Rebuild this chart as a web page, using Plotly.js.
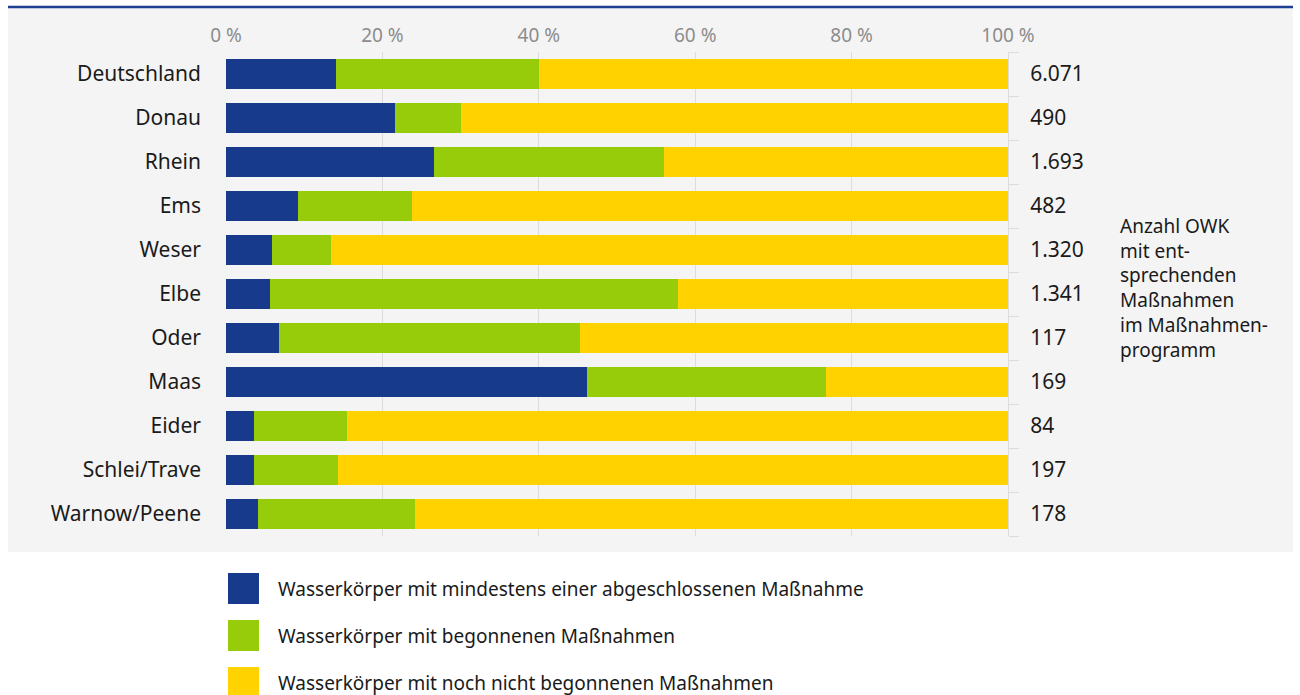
<!DOCTYPE html>
<html>
<head>
<meta charset="utf-8">
<script src="https://cdn.plot.ly/plotly-3.0.1.min.js"></script>
<style>html,body{margin:0;padding:0;background:#fff;}#chart{width:1300px;height:695px;}</style>
</head>
<body>
<div id="chart"></div>
<script>
const categories = ["Deutschland","Donau","Rhein","Ems","Weser","Elbe","Oder","Maas","Eider","Schlei/Trave","Warnow/Peene"];
const abgeschlossen = [14.1, 21.6, 26.6, 9.2, 5.9, 5.6, 6.8, 46.2, 3.6, 3.6, 4.1];
const begonnen      = [25.9, 8.4, 29.4, 14.6, 7.5, 52.2, 38.5, 30.5, 11.9, 10.7, 20.1];
const nichtBegonnen = [60.0, 70.0, 44.0, 76.2, 86.6, 42.2, 54.7, 23.3, 84.5, 85.7, 75.8];
const anzahlOWK = ["6.071","490","1.693","482","1.320","1.341","117","169","84","197","178"];
const seriesNames = [
  "Wasserkörper mit mindestens einer abgeschlossenen Maßnahme",
  "Wasserkörper mit begonnenen Maßnahmen",
  "Wasserkörper mit noch nicht begonnenen Maßnahmen"
];
const seriesColors = ["#183a8c", "#96cc0a", "#ffd200"];
const xTicks = [0, 20, 40, 60, 80, 100];
const rightTitle = ["Anzahl OWK","mit ent-","sprechenden","Maßnahmen","im Maßnahmen-","programm"];

const FONT = "Noto Sans, sans-serif";
const L = 226, R = 1008, T = 52, B = 536;
const px = v => (v - L) / (R - L);
const py = v => (B - v) / (B - T);
const catRange = [categories.length - 0.5, -0.5];

const seriesValues = [abgeschlossen, begonnen, nichtBegonnen];
const traces = seriesValues.map((vals, i) => ({
  type: "bar",
  orientation: "h",
  x: vals,
  y: categories,
  name: seriesNames[i],
  marker: {color: seriesColors[i], line: {width: 0}},
  hoverinfo: "x+y"
}));
// helper trace registering categories on the right axis
traces.push({
  type: "scatter", mode: "markers", x: abgeschlossen, y: categories,
  yaxis: "y2", marker: {opacity: 0}, hoverinfo: "skip", showlegend: false
});

const shapes = [
  {type: "rect", xref: "paper", yref: "paper", x0: px(8), x1: px(1293), y0: py(552), y1: py(8),
   fillcolor: "#f4f4f4", line: {width: 0}, layer: "below"},
  {type: "line", xref: "paper", yref: "paper", x0: px(8), x1: px(1293), y0: py(7), y1: py(7),
   line: {color: "#1d3f92", width: 2.5}}
];
const annotations = [];
seriesNames.forEach((n, i) => {
  const top = 573 + i * 47;
  shapes.push({type: "rect", xref: "paper", yref: "paper", x0: px(228), x1: px(259),
    y0: py(top + 31), y1: py(top), fillcolor: seriesColors[i], line: {width: 0}});
  annotations.push({xref: "paper", yref: "paper", x: px(276), y: py(top + 15.5),
    xanchor: "left", yanchor: "middle", showarrow: false, text: n,
    font: {family: FONT, size: 19, color: "#1a1a1a"}});
});
annotations.push({xref: "paper", yref: "paper", x: px(1118), y: py(288),
  xanchor: "left", yanchor: "middle", align: "left", showarrow: false,
  text: rightTitle.join("<br>"), font: {family: FONT, size: 19, color: "#1a1a1a"}});

const layout = {
  width: 1300, height: 695,
  margin: {l: L, r: 1300 - R, t: T, b: 695 - B, pad: 0},
  paper_bgcolor: "rgba(0,0,0,0)", plot_bgcolor: "rgba(0,0,0,0)",
  barmode: "stack", bargap: 0.3, showlegend: false,
  font: {family: FONT, color: "#1a1a1a"},
  xaxis: {
    side: "top", range: [0, 100], tickvals: xTicks, ticktext: xTicks.map(v => v + " %"),
    showgrid: true, gridcolor: "#dcdcdc", gridwidth: 1, zeroline: false, showline: false,
    ticks: "", ticklabelstandoff: 5, tickfont: {family: FONT, size: 19, color: "#8c8c8c"}, fixedrange: true
  },
  yaxis: {
    type: "category", categoryorder: "array", categoryarray: categories, range: catRange,
    showgrid: false, zeroline: false, showline: false, ticks: "", ticklabelstandoff: 24,
    tickfont: {family: FONT, size: 21, color: "#1a1a1a"}, fixedrange: true
  },
  yaxis2: {
    type: "category", categoryorder: "array", categoryarray: categories, range: catRange,
    overlaying: "y", side: "right", anchor: "x",
    tickvals: categories, ticktext: anzahlOWK, tickson: "boundaries",
    ticks: "outside", ticklen: 10, tickcolor: "#dcdcdc", tickwidth: 1,
    showline: true, linecolor: "#dcdcdc", linewidth: 1, showgrid: false, zeroline: false,
    ticklabelstandoff: 17, tickfont: {family: FONT, size: 21, color: "#1a1a1a"}, fixedrange: true
  },
  shapes: shapes,
  annotations: annotations
};

Plotly.newPlot("chart", traces, layout, {displayModeBar: false, staticPlot: true});
</script>
</body>
</html>
